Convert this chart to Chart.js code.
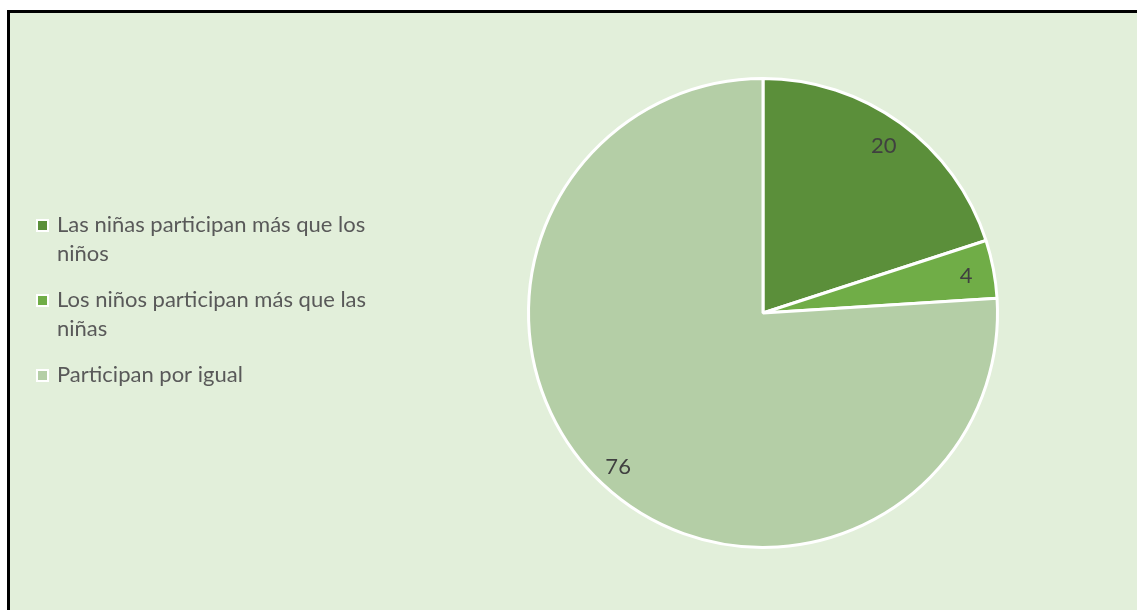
<!DOCTYPE html>
<html>
<head>
<meta charset="utf-8">
<script src="https://cdn.jsdelivr.net/npm/chart.js@4.4.0/dist/chart.umd.min.js"></script>
<style>
    html, body { margin: 0; padding: 0; background: #ffffff; }
    body { width: 1137px; height: 610px; position: relative; overflow: hidden; }
    .frame {
        position: absolute; left: 7px; top: 10px; width: 1140px; height: 610px;
        border-left: 3px solid #000; border-top: 3px solid #000;
        background: #e2efda;
    }
    canvas { position: absolute; left: 0; top: 0; }
</style>
</head>
<body>
<div class="frame"></div>
<canvas id="chart-pie" width="1137" height="610"></canvas>
<script>
const labels = ['Las niñas participan más que los niños', 'Los niños participan más que las niñas', 'Participan por igual'];
const values = [20, 4, 76];
const sliceColours = ['#5b8f3a', '#70ad47', '#b4cea6'];

const fontFamily = 'Lato, "Open Sans", sans-serif';

// legend on the left, wrapped like the original
const leftLegend = {
    id: 'leftLegend',
    afterDraw(chart) {
        const ctx = chart.ctx;
        ctx.save();
        ctx.font = '22px ' + fontFamily;
        ctx.textBaseline = 'middle';
        const maxWidth = 320;
        let y = 225;
        labels.forEach((text, i) => {
            // box
            ctx.fillStyle = '#ffffff';
            ctx.fillRect(36, y - 6, 13, 13);
            ctx.fillStyle = sliceColours[i];
            ctx.fillRect(38, y - 4, 9, 9);
            // wrap words
            const words = text.split(' ');
            const lines = [];
            let line = '';
            words.forEach(w => {
                const test = line ? line + ' ' + w : w;
                if (ctx.measureText(test).width > maxWidth && line) {
                    lines.push(line);
                    line = w;
                } else {
                    line = test;
                }
            });
            lines.push(line);
            ctx.fillStyle = '#595959';
            lines.forEach((l, j) => ctx.fillText(l, 57, y + j * 29));
            y += lines.length * 29 + 17;
        });
        ctx.restore();
    }
};

// value labels inside the slices
const sliceLabels = {
    id: 'sliceLabels',
    afterDatasetsDraw(chart) {
        const ctx = chart.ctx;
        const meta = chart.getDatasetMeta(0);
        ctx.save();
        ctx.font = '22px ' + fontFamily;
        ctx.fillStyle = '#404040';
        ctx.textAlign = 'center';
        ctx.textBaseline = 'middle';
        meta.data.forEach((arc, i) => {
            const p = arc.getProps(['x', 'y', 'startAngle', 'endAngle', 'outerRadius'], true);
            const mid = (p.startAngle + p.endAngle) / 2;
            const r = p.outerRadius * 0.89;
            ctx.fillText(values[i], p.x + Math.cos(mid) * r - 2, p.y + Math.sin(mid) * r + 2);
        });
        ctx.restore();
    }
};

const chartPie = document.querySelector('#chart-pie');

new Chart(chartPie, {
    type: 'pie',
    data: {
        labels: labels,
        datasets: [{
            data: values,
            backgroundColor: sliceColours,
            borderColor: '#ffffff',
            borderWidth: 3
        }]
    },
    options: {
        responsive: false,
        animation: false,
        layout: {
            padding: { left: 527, right: 138, top: 77, bottom: 61 }
        },
        plugins: {
            legend: { display: false },
            tooltip: { enabled: false }
        }
    },
    plugins: [leftLegend, sliceLabels]
});
</script>
</body>
</html>
